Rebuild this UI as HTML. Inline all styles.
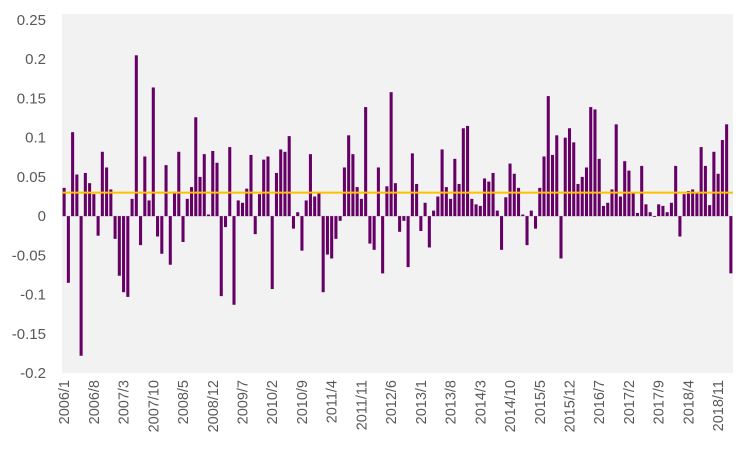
<!DOCTYPE html>
<html><head><meta charset="utf-8">
<style>
html,body{margin:0;padding:0;background:#fff;}
svg{display:block;font-family:"Liberation Sans",sans-serif;}
</style></head>
<body>
<svg id="chart" width="741" height="450" viewBox="0 0 741 450" xmlns="http://www.w3.org/2000/svg">
<rect x="62" y="14" width="671" height="359" fill="#f2f2f2"/>
<g id="yaxis"></g>
<g id="bars"></g>
<g id="xaxis"></g>
</svg>
<script>
const values = [
0.036,-0.085,0.107,0.053,-0.178,0.055,0.042,0.028,-0.025,0.082,0.062,0.034,
-0.029,-0.076,-0.097,-0.103,0.022,0.205,-0.037,0.076,0.020,0.164,-0.026,-0.048,
0.065,-0.062,0.031,0.082,-0.033,0.022,0.037,0.126,0.050,0.079,0.002,0.083,
0.068,-0.102,-0.014,0.088,-0.113,0.020,0.017,0.035,0.078,-0.023,0.028,0.072,
0.076,-0.093,0.055,0.085,0.082,0.102,-0.016,0.005,-0.044,0.020,0.079,0.025,
0.029,-0.097,-0.049,-0.054,-0.029,-0.006,0.062,0.103,0.079,0.037,0.022,0.139,
-0.035,-0.043,0.062,-0.073,0.038,0.158,0.042,-0.020,-0.006,-0.065,0.080,0.041,
-0.019,0.017,-0.040,0.007,0.025,0.085,0.037,0.022,0.073,0.041,0.112,0.115,
0.022,0.015,0.013,0.048,0.044,0.055,0.007,-0.043,0.024,0.067,0.054,0.036,
0.002,-0.037,0.007,-0.016,0.036,0.076,0.153,0.078,0.103,-0.054,0.100,0.112,
0.094,0.041,0.050,0.062,0.139,0.136,0.073,0.013,0.017,0.034,0.117,0.025,
0.070,0.058,0.030,0.004,0.064,0.015,0.005,-0.001,0.015,0.013,0.005,0.017,
0.064,-0.026,0.028,0.032,0.034,0.030,0.088,0.064,0.014,0.082,0.054,0.097,
0.117,-0.073];
const averageValue = 0.030;
const yTicks = [0.25,0.2,0.15,0.1,0.05,0,-0.05,-0.1,-0.15,-0.2];
const yTickLabels = ["0.25","0.2","0.15","0.1","0.05","0","-0.05","-0.1","-0.15","-0.2"];
const startYear = 2006, startMonth = 1, labelEvery = 7;

const NS="http://www.w3.org/2000/svg";
const plotL=62, plotR=733, yTop=20, yBot=373, vMax=0.25, vMin=-0.2;
const n=values.length, step=(plotR-plotL)/n;
const y=v=>yTop+(vMax-v)/(vMax-vMin)*(yBot-yTop);
const xc=i=>plotL+step*(i+0.5);
function mk(tag,attrs,parent){const e=document.createElementNS(NS,tag);for(const k in attrs)e.setAttribute(k,attrs[k]);parent.appendChild(e);return e;}

const ya=document.getElementById('yaxis');
yTicks.forEach((t,i)=>{
  const tx=mk('text',{x:46,y:y(t)+5,'text-anchor':'end','font-size':15,fill:'#595959'},ya);
  tx.textContent=yTickLabels[i];
  
  
});
const zl=mk('line',{x1:plotL,x2:plotR,y1:y(0),y2:y(0),stroke:'#d9d9d9','stroke-width':1},ya);



const bg=document.getElementById('bars');
const bw=step*0.72;
values.forEach((v,i)=>{
  const y0=y(0), y1=y(v);
  const r=mk('rect',{x:xc(i)-bw/2,y:Math.min(y0,y1),width:bw,height:Math.max(Math.abs(y1-y0),0.5),fill:'#660066'},bg);
  
  
});
const al=mk('line',{x1:plotL,x2:plotR,y1:y(averageValue),y2:y(averageValue),stroke:'#ffc000','stroke-width':2},bg);



const xa=document.getElementById('xaxis');
for(let i=0;i<n;i+=labelEvery){
  const m=startMonth-1+i, yr=startYear+Math.floor(m/12), mo=m%12+1;
  const X=xc(i)+5, Y=380;
  const tx=mk('text',{x:X,y:Y,'text-anchor':'end','font-size':14.5,fill:'#595959',transform:`rotate(-90 ${X} ${Y})`},xa);
  tx.textContent=yr+'/'+mo;
  
  
}
</script>
</body></html>
